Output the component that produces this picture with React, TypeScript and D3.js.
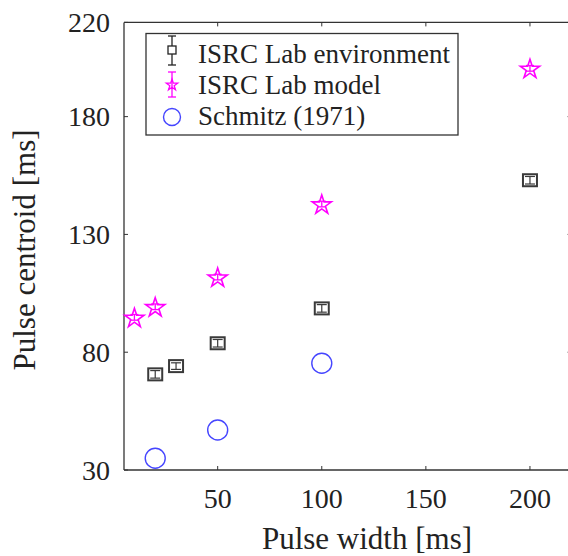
import * as d3 from "d3"

// ISRC Lab environment (black squares)
const envWidth = [20, 30, 50, 100, 200]
const envCentroid = [70.6, 74.1, 83.8, 98.6, 153]
const envErr = [1.6, 1.4, 1.6, 1.6, 1.6]

// ISRC Lab model (magenta stars)
const modelWidth = [10, 20, 50, 100, 200]
const modelCentroid = [94.8, 99.3, 111.9, 142.9, 200.5]
const modelErr = [1.2, 1.2, 1.2, 1.2, 1.2]

// Schmitz (1971) (blue circles)
const schmitzWidth = [20, 50, 100]
const schmitzCentroid = [35, 47, 75.3]

const xTicks = [50, 100, 150, 200]
const yTicks = [30, 80, 130, 180, 220]
const legendLabels = ["ISRC Lab environment", "ISRC Lab model", "Schmitz (1971)"]

const W = 568
const H = 556
const FONT = "'Liberation Serif', 'Times New Roman', serif"
const AXIS = "#333"
const TXT = "#222"
const MAGENTA = "#ff00ff"
const BLUE = "#4545ff"

const x = d3.scaleLinear().domain([5, 220]).range([124, 571.6])
const y = d3.scaleLinear().domain([30, 220]).range([470, 22.4])

const star = d3.symbol().type(d3.symbolStar)

export default function App() {
  const [x0, x1] = x.range()
  const [y0, y1] = y.range()
  const tick = 4
  const legendRows = [63, 94, 125]
  const lx = 172

  return (
    <svg width={W} height={H} style={{ position: "absolute", left: 0, top: 0, background: "#fff" }}
      fontFamily={FONT}>
      {/* frame */}
      <line x1={x0} x2={x1} y1={y0} y2={y0} stroke={AXIS} strokeWidth={1.3} />
      <line x1={x0} x2={x1} y1={y1} y2={y1} stroke={AXIS} strokeWidth={1.3} />
      <line x1={x0} x2={x0} y1={y0} y2={y1} stroke={AXIS} strokeWidth={1.3} />
      <line x1={x1} x2={x1} y1={y0} y2={y1} stroke={AXIS} strokeWidth={1.3} />

      {xTicks.map((t) => (
        <g key={"x" + t}>
          <line x1={x(t)} x2={x(t)} y1={y0} y2={y0 - tick} stroke={AXIS} />
          <line x1={x(t)} x2={x(t)} y1={y1} y2={y1 + tick} stroke={AXIS} />
          <text x={x(t)} y={508} textAnchor="middle" fontSize={28} fill={TXT}>{t}</text>
        </g>
      ))}
      {yTicks.map((t) => (
        <g key={"y" + t}>
          <line x1={x0} x2={x0 + tick} y1={y(t)} y2={y(t)} stroke={AXIS} />
          <line x1={x1} x2={x1 - tick} y1={y(t)} y2={y(t)} stroke={AXIS} />
          <text x={110} y={y(t)} dy="0.35em" textAnchor="end" fontSize={28} fill={TXT}>{t}</text>
        </g>
      ))}

      <text x={367} y={549} textAnchor="middle" fontSize={31} fill={TXT}>Pulse width [ms]</text>
      <text transform={`translate(35,250) rotate(-90)`} textAnchor="middle" fontSize={31} fill={TXT}>
        Pulse centroid [ms]
      </text>

      {/* Schmitz */}
      {schmitzWidth.map((w, i) => (
        <circle key={"s" + i} cx={x(w)} cy={y(schmitzCentroid[i])} r={10}
          fill="none" stroke={BLUE} strokeWidth={1.4} />
      ))}

      {/* model */}
      {modelWidth.map((w, i) => {
        const cx = x(w), cy = y(modelCentroid[i])
        const lo = y(modelCentroid[i] - modelErr[i]), hi = y(modelCentroid[i] + modelErr[i])
        return (
          <g key={"m" + i} stroke={MAGENTA} fill="none" strokeWidth={1.3}>
            <path d={star.size(115)()!} transform={`translate(${cx},${cy + 1})`} strokeWidth={1.6} />
            <line x1={cx} x2={cx} y1={lo} y2={hi} />
            <line x1={cx - 4} x2={cx + 4} y1={lo} y2={lo} />
            <line x1={cx - 4} x2={cx + 4} y1={hi} y2={hi} />
          </g>
        )
      })}

      {/* environment */}
      {envWidth.map((w, i) => {
        const cx = x(w), cy = y(envCentroid[i])
        const lo = y(envCentroid[i] - envErr[i]), hi = y(envCentroid[i] + envErr[i])
        return (
          <g key={"e" + i} stroke="#3a3a3a" fill="none">
            <rect x={cx - 7} y={cy - 6} width={14} height={12} strokeWidth={2} />
            <line x1={cx} x2={cx} y1={lo} y2={hi} strokeWidth={1.2} />
            <line x1={cx - 5} x2={cx + 5} y1={lo} y2={lo} strokeWidth={1.2} />
            <line x1={cx - 5} x2={cx + 5} y1={hi} y2={hi} strokeWidth={1.2} />
          </g>
        )
      })}

      {/* legend */}
      <rect x={146} y={33.5} width={312} height={101.5} fill="#fff" stroke={AXIS} strokeWidth={1.3} />
      <g stroke="#222" fill="none" strokeWidth={1.3}>
        <line x1={lx} x2={lx} y1={36} y2={65} />
        <line x1={lx - 4} x2={lx + 4} y1={36} y2={36} />
        <line x1={lx - 4} x2={lx + 4} y1={65} y2={65} />
        <rect x={lx - 4} y={46} width={8} height={8} fill="#fff" />
      </g>
      <g stroke={MAGENTA} fill="none" strokeWidth={1.3}>
        <line x1={lx} x2={lx} y1={72} y2={97} />
        <line x1={lx - 4} x2={lx + 4} y1={72} y2={72} />
        <line x1={lx - 4} x2={lx + 4} y1={97} y2={97} />
        <path d={star.size(40)()!} transform={`translate(${lx},85)`} />
      </g>
      <circle cx={lx} cy={117} r={8.5} fill="none" stroke={BLUE} strokeWidth={1.4} />
      {legendLabels.map((l, i) => (
        <text key={l} x={198} y={legendRows[i]} fontSize={27} fill={TXT}>{l}</text>
      ))}
    </svg>
  )
}
